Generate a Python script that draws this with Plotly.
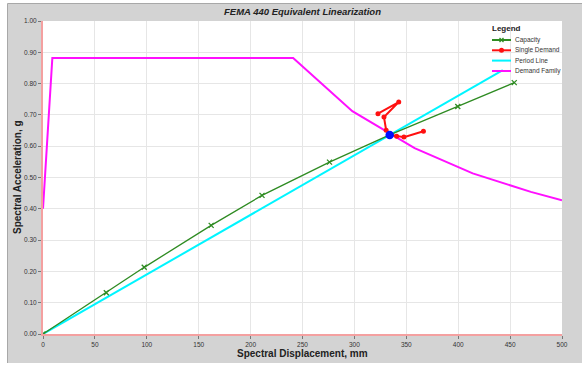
import plotly.graph_objects as go

# Capacity curve (spectral displacement mm, spectral acceleration g)
capacity_sd = [0, 61, 97.5, 162, 211, 276, 334, 399.6, 454]
capacity_sa = [0, 0.132, 0.213, 0.347, 0.443, 0.549, 0.636, 0.727, 0.803]

# Iterations of the single demand spectrum
demand_sd = [322.7, 342.7, 328.5, 330.6, 334, 340.7, 347.7, 366.5]
demand_sa = [0.704, 0.741, 0.693, 0.651, 0.637, 0.632, 0.629, 0.648]

# Effective period line through the performance point
period_sd = [0, 443]
period_sa = [0, 0.843]

# Demand family (reduced spectrum)
family_sd = [0, 9, 241, 298, 358, 414, 470, 500]
family_sa = [0.40, 0.882, 0.882, 0.712, 0.594, 0.513, 0.454, 0.427]

# Performance point
perf_sd = [334]
perf_sa = [0.636]

x_ticks = [0, 50, 100, 150, 200, 250, 300, 350, 400, 450, 500]
y_ticks = [0.0, 0.1, 0.2, 0.3, 0.4, 0.5, 0.6, 0.7, 0.8, 0.9, 1.0]

C_CAP = "#2e8b22"
C_DEM = "#ff1010"
C_PER = "#00f5ff"
C_FAM = "#ff10ff"

W, H = 582, 367
ML, MR, MT, MB = 43, 20, 21, 33
PW, PH = W - ML - MR, H - MT - MB


def px(x):
    return (x - ML) / PW


def py(y):
    return (H - MB - y) / PH


fig = go.Figure()
fig.add_trace(go.Scatter(x=family_sd, y=family_sa, mode="lines",
                         line=dict(color=C_FAM, width=2), name="Demand Family"))
fig.add_trace(go.Scatter(x=period_sd, y=period_sa, mode="lines",
                         line=dict(color=C_PER, width=2), name="Period Line"))
fig.add_trace(go.Scatter(x=capacity_sd, y=capacity_sa, mode="lines+markers",
                         line=dict(color=C_CAP, width=1.3),
                         marker=dict(symbol="x-thin", size=5,
                                     line=dict(color=C_CAP, width=1.3)),
                         name="Capacity"))
fig.add_trace(go.Scatter(x=demand_sd, y=demand_sa, mode="lines+markers",
                         line=dict(color=C_DEM, width=2),
                         marker=dict(symbol="circle", size=5, color=C_DEM),
                         name="Single Demand"))
fig.add_trace(go.Scatter(x=perf_sd, y=perf_sa, mode="markers",
                         marker=dict(symbol="circle", size=8.5, color="#0010ff"),
                         name="Performance Point"))

shapes = []
# Gray chart panel and its frame
shapes.append(dict(type="rect", xref="paper", yref="paper", layer="below",
                   x0=px(0), x1=px(8), y0=py(H), y1=py(0),
                   fillcolor="white", line=dict(width=0)))
shapes.append(dict(type="rect", xref="paper", yref="paper", layer="below",
                   x0=px(0), x1=px(W), y0=py(3), y1=py(0),
                   fillcolor="white", line=dict(width=0)))
shapes.append(dict(type="rect", xref="paper", yref="paper", layer="below",
                   x0=px(0), x1=px(W), y0=py(H), y1=py(363),
                   fillcolor="white", line=dict(width=0)))
shapes.append(dict(type="line", xref="paper", yref="paper", layer="below",
                   x0=px(7.5), x1=px(W), y0=py(3.5), y1=py(3.5),
                   line=dict(color="#a8a8a8", width=1)))
shapes.append(dict(type="line", xref="paper", yref="paper", layer="below",
                   x0=px(7.5), x1=px(7.5), y0=py(3.5), y1=py(363),
                   line=dict(color="#a8a8a8", width=1)))

# Legend drawn inside the plot area
leg_x0, leg_x1, leg_tx = 492, 511, 513
leg_items = [("Capacity", C_CAP, 40, "x"),
             ("Single Demand", C_DEM, 50.3, "o"),
             ("Period Line", C_PER, 60.6, None),
             ("Demand Family", C_FAM, 71, None)]
annotations = [dict(text="<b>Legend</b>", xref="paper", yref="paper",
                    x=px(490), y=py(28.5), xanchor="left", yanchor="middle",
                    showarrow=False, font=dict(size=8, color="#222"))]
for label, color, yy, mk in leg_items:
    shapes.append(dict(type="line", xref="paper", yref="paper", layer="above",
                       x0=px(leg_x0), x1=px(leg_x1), y0=py(yy), y1=py(yy),
                       line=dict(color=color, width=2)))
    cx = (leg_x0 + leg_x1) / 2
    if mk == "x":
        for d in (1, -1):
            shapes.append(dict(type="line", xref="paper", yref="paper", layer="above",
                               x0=px(cx - 2), x1=px(cx + 2), y0=py(yy - 2 * d), y1=py(yy + 2 * d),
                               line=dict(color=color, width=1.2)))
    elif mk == "o":
        shapes.append(dict(type="circle", xref="paper", yref="paper", layer="above",
                           x0=px(cx - 2.5), x1=px(cx + 2.5), y0=py(yy + 2.5), y1=py(yy - 2.5),
                           fillcolor=color, line=dict(width=0)))
    annotations.append(dict(text=label, xref="paper", yref="paper",
                            x=px(leg_tx), y=py(yy), xanchor="left", yanchor="middle",
                            showarrow=False, font=dict(size=6.5, color="#333")))

# Axis titles
annotations.append(dict(text="<b>Spectral Displacement, mm</b>", xref="paper", yref="paper",
                        x=px(302.5), y=py(353), xanchor="center", yanchor="middle",
                        showarrow=False, font=dict(size=10, color="#222")))
annotations.append(dict(text="<b>Spectral Acceleration, g</b>", xref="paper", yref="paper",
                        x=px(17), y=py(177), xanchor="center", yanchor="middle",
                        textangle=-90, showarrow=False, font=dict(size=10, color="#222")))

fig.update_layout(
    width=W, height=H,
    margin=dict(l=ML, r=MR, t=MT, b=MB),
    paper_bgcolor="#d3d3d3",
    plot_bgcolor="white",
    showlegend=False,
    font=dict(family="Liberation Sans, Arial, sans-serif", color="#333"),
    title=dict(text="<b><i>FEMA 440 Equivalent Linearization</i></b>",
               x=302.5 / W, xanchor="center",
               y=1 - 12 / H, yanchor="middle",
               font=dict(size=9.5, color="#222")),
    shapes=shapes,
    annotations=annotations,
    xaxis=dict(range=[0, 500], tickvals=x_ticks, ticktext=[str(v) for v in x_ticks],
               automargin=False,
               showgrid=True, gridcolor="#e6e6e6", gridwidth=1,
               zeroline=False, showline=True, linecolor="#f4a0a0", linewidth=2,
               ticks="outside", ticklen=3, tickcolor="#777",
               tickfont=dict(size=6.5, color="#333")),
    yaxis=dict(range=[0, 1.0], tickvals=y_ticks, ticktext=[f"{v:.2f}" for v in y_ticks],
               automargin=False,
               showgrid=True, gridcolor="#e6e6e6", gridwidth=1,
               zeroline=False, showline=True, linecolor="#f4a0a0", linewidth=2,
               ticks="outside", ticklen=3, tickcolor="#777",
               tickfont=dict(size=6.5, color="#333")),
)

fig.write_html("out.html")
